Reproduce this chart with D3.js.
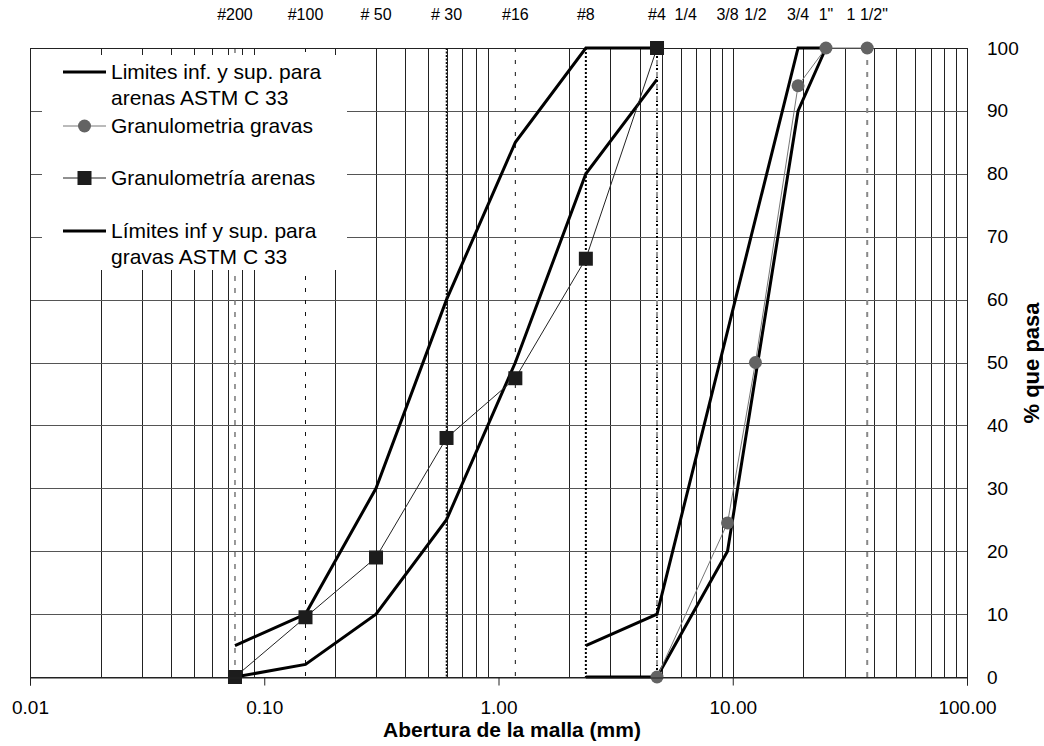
<!DOCTYPE html>
<html>
<head>
<meta charset="utf-8">
<script src="https://cdn.jsdelivr.net/npm/d3@7"></script>
<style>
  body { margin: 0; background: #fff; }
  svg { display: block; font-family: "Liberation Sans", Arial, sans-serif; }
</style>
</head>
<body>
<svg id="chart" width="1044" height="746"></svg>
<script>
// ---- data ----
const sieveLabels = ["#200", "#100", "# 50", "# 30", "#16", "#8", "#4", "1/4", "3/8", "1/2", "3/4", "1\"", "1 1/2\""];
const sieveSizes = [0.075, 0.15, 0.3, 0.6, 1.18, 2.36, 4.75, 6.3, 9.5, 12.5, 19, 25, 37.5];

const sandSieves = [0.075, 0.15, 0.3, 0.6, 1.18, 2.36, 4.75];
const sandLower = [0, 2, 10, 25, 50, 80, 95];
const sandUpper = [5, 10, 30, 60, 85, 100, 100];
const sandPassing = [0, 9.5, 19, 38, 47.5, 66.5, 100];

const gravelLimitSieves = [2.36, 4.75, 9.5, 19, 25];
const gravelLower = [0, 0, 20, 90, 100];
const gravelUpper = [5, 10, 55, 100, 100];

const gravelSieves = [4.75, 9.5, 12.5, 19, 25, 37.5];
const gravelPassing = [0, 24.5, 50, 94, 100, 100];

const refSieves = [0.075, 0.15, 0.6, 1.18, 2.36, 4.75, 37.5];

const xTickValues = [0.01, 0.1, 1, 10, 100];
const yTickValues = [0, 10, 20, 30, 40, 50, 60, 70, 80, 90, 100];

const legendLabels = [
  ["Limites inf. y sup. para", "arenas ASTM C 33"],
  ["Granulometria gravas"],
  ["Granulometría arenas"],
  ["Límites inf y sup. para", "gravas ASTM C 33"]
];

// ---- layout ----
const svg = d3.select("#chart");
const L = 30, R = 967, T = 48, B = 677;
const x = d3.scaleLog().domain([0.01, 100]).range([L, R]);
const y = d3.scaleLinear().domain([0, 100]).range([B, T]);

// vertical grid lines (minor steps of each decade + 10)
const minorVals = [];
[0.01, 0.1, 1, 10].forEach(d => { for (let k = 2; k <= 9; k++) minorVals.push(+(d * k).toPrecision(3)); });
minorVals.push(10);
svg.append("g").selectAll("line").data(minorVals).join("line")
  .attr("x1", d => Math.round(x(d)) + 0.5).attr("x2", d => Math.round(x(d)) + 0.5)
  .attr("y1", T).attr("y2", B)
  .attr("stroke", "#222").attr("stroke-width", 1);

// horizontal grid lines
svg.append("g").selectAll("line").data(yTickValues.slice(1, -1)).join("line")
  .attr("x1", L).attr("x2", R)
  .attr("y1", d => Math.round(y(d)) + 0.5).attr("y2", d => Math.round(y(d)) + 0.5)
  .attr("stroke", "#555").attr("stroke-width", 1);

// reference (dashed) vertical lines at sieve openings
const dashStyle = {
  0.075: [{c: "#777", w: 1.5, d: "5,7"}],
  0.15: [{c: "#111", w: 1, d: "4,8"}],
  0.6: [{c: "#111", w: 1.6, d: "2,1.5"}],
  1.18: [{c: "#111", w: 1, d: "4,8"}],
  2.36: [{c: "#000", w: 2, d: "2,2"}],
  4.75: [{c: "#000", w: 2, d: "2,2"}, {c: "#999", w: 2, d: "5,7"}],
  37.5: [{c: "#888", w: 2, d: "5,7"}]
};
const dashG = svg.append("g");
refSieves.forEach(s => {
  dashStyle[s].forEach(st => {
    dashG.append("line")
      .attr("x1", x(s)).attr("x2", x(s)).attr("y1", T).attr("y2", B)
      .attr("stroke", st.c).attr("stroke-width", st.w).attr("stroke-dasharray", st.d);
  });
});

// frame
svg.append("rect").attr("x", L + 0.5).attr("y", T + 0.5).attr("width", R - L).attr("height", B - T)
  .attr("fill", "none").attr("stroke", "#222").attr("stroke-width", 1);

const line = d3.line().x(d => x(d[0])).y(d => y(d[1]));
const zip = (a, b) => a.map((v, i) => [v, b[i]]);

// limit lines
[[sandSieves, sandLower], [sandSieves, sandUpper], [gravelLimitSieves, gravelLower], [gravelLimitSieves, gravelUpper]]
  .forEach(([s, v]) => {
    svg.append("path").datum(zip(s, v)).attr("d", line)
      .attr("fill", "none").attr("stroke", "#000").attr("stroke-width", 3).attr("stroke-linejoin", "miter");
  });

// gravel gradation
svg.append("path").datum(zip(gravelSieves, gravelPassing)).attr("d", line)
  .attr("fill", "none").attr("stroke", "#777").attr("stroke-width", 1);
svg.append("g").selectAll("circle").data(zip(gravelSieves, gravelPassing)).join("circle")
  .attr("cx", d => x(d[0])).attr("cy", d => y(d[1])).attr("r", 6.5).attr("fill", "#636363");

// sand gradation
svg.append("path").datum(zip(sandSieves, sandPassing)).attr("d", line)
  .attr("fill", "none").attr("stroke", "#222").attr("stroke-width", 1);
svg.append("g").selectAll("rect").data(zip(sandSieves, sandPassing)).join("rect")
  .attr("x", d => x(d[0]) - 7).attr("y", d => y(d[1]) - 7).attr("width", 14).attr("height", 14).attr("fill", "#1c1c1c");

// bottom axis ticks + labels
const xAxis = d3.axisBottom(x).tickValues(xTickValues).tickSize(8).tickPadding(15)
  .tickFormat(d3.format(".2f"));
const gx = svg.append("g").attr("transform", `translate(0,${B + 0.5})`).call(xAxis);
gx.select(".domain").attr("stroke", "#222");
gx.selectAll(".tick line").attr("stroke", "#222");
gx.selectAll("text").attr("font-size", 19).attr("fill", "#000").attr("font-family", "Liberation Sans, Arial, sans-serif");

// right axis labels
const yAxis = d3.axisRight(y).tickValues(yTickValues).tickSize(0).tickPadding(20);
const gy = svg.append("g").attr("transform", `translate(${R},0)`).call(yAxis);
gy.select(".domain").remove();
gy.selectAll("text").attr("font-size", 19).attr("fill", "#000").attr("font-family", "Liberation Sans, Arial, sans-serif");

// top sieve labels
svg.append("g").selectAll("text").data(sieveLabels).join("text")
  .attr("x", (d, i) => x(sieveSizes[i])).attr("y", 20)
  .attr("text-anchor", "middle").attr("font-size", 16).attr("fill", "#000").text(d => d);

// axis titles
svg.append("text").attr("x", 512).attr("y", 737).attr("text-anchor", "middle")
  .attr("font-size", 21).attr("font-weight", "bold").text("Abertura de la malla (mm)");
svg.append("text").attr("transform", "translate(1039,363) rotate(-90)").attr("text-anchor", "middle")
  .attr("font-size", 22).attr("font-weight", "bold").text("% que pasa");

// legend
const lg = svg.append("g");
lg.append("rect").attr("x", 42).attr("y", 55).attr("width", 305).attr("height", 215).attr("fill", "#fff");
const legendY = [72, 126, 178, 231];
const lx1 = 63, lx2 = 106, tx = 111;
legendLabels.forEach((lines, i) => {
  const yy = legendY[i];
  if (i === 0 || i === 3) {
    lg.append("line").attr("x1", lx1).attr("x2", lx2).attr("y1", yy).attr("y2", yy)
      .attr("stroke", "#000").attr("stroke-width", 3);
  } else if (i === 1) {
    lg.append("line").attr("x1", lx1).attr("x2", lx2).attr("y1", yy).attr("y2", yy)
      .attr("stroke", "#777").attr("stroke-width", 1);
    lg.append("circle").attr("cx", (lx1 + lx2) / 2).attr("cy", yy).attr("r", 6.5).attr("fill", "#636363");
  } else {
    lg.append("line").attr("x1", lx1).attr("x2", lx2).attr("y1", yy).attr("y2", yy)
      .attr("stroke", "#222").attr("stroke-width", 1);
    lg.append("rect").attr("x", (lx1 + lx2) / 2 - 7).attr("y", yy - 7).attr("width", 14).attr("height", 14).attr("fill", "#1c1c1c");
  }
  lines.forEach((t, j) => {
    lg.append("text").attr("x", tx).attr("y", yy + 7 + j * 26)
      .attr("font-size", 21).attr("fill", "#000").text(t);
  });
});
</script>
</body>
</html>
